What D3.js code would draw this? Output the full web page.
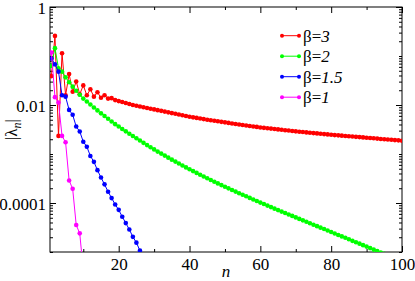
<!DOCTYPE html>
<html>
<head>
<meta charset="utf-8">
<script src="https://cdn.jsdelivr.net/npm/d3@7"></script>
<style>
  body { margin: 0; background: #fff; }
  #chart text, #chart tspan { font-family: "Liberation Serif", "Times New Roman", Times, "DejaVu Serif", "Noto Serif", serif !important; }
</style>
</head>
<body>
<svg id="chart" width="415" height="281"></svg>
<script>
// |lambda_n| for each beta, n = 1, 2, 3, ...
let beta3 = [0.0389,0.257,0.00234,0.1135,0.0158,0.0427,0.0186,0.0302,0.0166,0.0251,
  0.0158,0.0209,0.0148,0.0182,0.0141,0.0158,0.0135,0.0138,0.0126,0.0120,
  0.0115,0.0110,0.0105,0.0100,0.00966,0.00933,0.00902,0.00871,0.00841,0.00813,
  0.00785,0.00759,0.00733,0.00708,0.00684,0.00661,0.00638,0.00617,0.00596,0.00575,
  0.00560,0.00545,0.00530,0.00515,0.00501,0.00489,0.00476,0.00465,0.00453,0.00442,
  0.00431,0.00420,0.00409,0.00400,0.00391,0.00382,0.00373,0.00365,0.00357,0.00348,
  0.00342,0.00336,0.00330,0.00324,0.00318,0.00312,0.00306,0.00301,0.00295,0.00290,
  0.00285,0.00281,0.00276,0.00272,0.00267,0.00263,0.00259,0.00255,0.00251,0.00247,
  0.00243,0.00240,0.00237,0.00233,0.00230,0.00227,0.00224,0.00221,0.00218,0.00215,
  0.00212,0.00209,0.00206,0.00203,0.00200,0.00198,0.00195,0.00192,0.00190,0.00187];
let beta2 = [0.0631,0.1445,0.0562,0.0479,0.0367,0.0292,0.0237,0.0195,0.0162,0.0135,
  0.01175,0.01023,0.00891,0.00776,0.00676,0.00596,0.00525,0.00462,0.00407,0.00363,
  0.00324,0.00290,0.00259,0.00233,0.00209,0.00188,0.00169,0.00152,0.00137,0.00124,
  0.00112,0.00102,9.27e-4,8.43e-4,7.67e-4,7.00e-4,6.38e-4,5.83e-4,5.33e-4,4.88e-4,
  4.48e-4,4.11e-4,3.78e-4,3.48e-4,3.20e-4,2.95e-4,2.72e-4,2.51e-4,2.32e-4,2.15e-4,
  1.99e-4,1.84e-4,1.71e-4,1.58e-4,1.47e-4,1.37e-4,1.27e-4,1.18e-4,1.10e-4,1.02e-4,
  9.51e-5,8.85e-5,8.24e-5,7.67e-5,7.16e-5,6.68e-5,6.24e-5,5.82e-5,5.45e-5,5.08e-5,
  4.74e-5,4.43e-5,4.13e-5,3.86e-5,3.61e-5,3.37e-5,3.14e-5,2.94e-5,2.74e-5,2.56e-5,
  2.39e-5,2.23e-5,2.08e-5,1.95e-5,1.82e-5,1.69e-5,1.58e-5,1.48e-5,1.38e-5,1.29e-5,
  1.20e-5,1.12e-5,1.05e-5,9.80e-6,9.16e-6];
let beta15 = [0.0891,0.0676,0.0479,0.0158,0.0148,0.00794,0.00631,0.00363,0.00288,0.00178,
  0.00141,9.12e-4,6.92e-4,4.68e-4,3.31e-4,2.40e-4,1.70e-4,1.26e-4,9.33e-5,7.24e-5,
  5.25e-5,3.89e-5,2.88e-5,2.04e-5,1.55e-5,1.07e-5,7.8e-6];
let beta1 = [0.1175,0.01445,0.01122,0.00234,0.00174,2.88e-4,1.95e-4,3.55e-5,2.40e-5,4.17e-6];

let seriesNames = ['3', '2', '1.5', '1'];
let seriesColors = ['#ff0000', '#00ff00', '#0000ff', '#ff00ff'];
let seriesValues = [beta3, beta2, beta15, beta1];

let xMajor = [20, 40, 60, 80, 100];
let xMinor = [10, 30, 50, 70, 90];
let yLabelled = [1, 0.01, 0.0001];

let margin = { top: 7, right: 13, bottom: 29, left: 50 };
let width = 415 - margin.left - margin.right;
let height = 281 - margin.top - margin.bottom;

let x = d3.scaleLinear().domain([0.6, 100]).range([0, width]);
let y = d3.scaleLog().domain([1e-5, 1]).range([height, 0]);

// log minor ticks: 2..9 in every decade, plus the unlabelled decades
let yMinor = [];
for (let e = -5; e <= 0; e++) {
  for (let k = 1; k <= 9; k++) {
    let v = k * Math.pow(10, e);
    if (v > 1) continue;
    if (k === 1 && Math.abs(e % 2) === 0) continue;
    yMinor.push(v);
  }
}

let svg = d3.select('#chart');
let g = svg.append('g').attr('transform', `translate(${margin.left},${margin.top})`);

g.append('clipPath').attr('id', 'plotclip')
  .append('rect').attr('width', width).attr('height', height);

let fixAxis = function(sel) {
  sel.attr('font-family', null);
  sel.select('.domain').remove();
  sel.selectAll('.tick line').attr('stroke', '#000');
  sel.selectAll('.tick text').attr('fill', '#000').attr('font-size', 17);
};

// bottom / top
g.append('g').attr('transform', `translate(0,${height})`)
  .call(d3.axisBottom(x).tickValues(xMajor).tickSizeInner(-6).tickSizeOuter(0).tickPadding(6).tickFormat(d3.format('d')))
  .call(fixAxis);
g.append('g').attr('transform', `translate(0,${height})`)
  .call(d3.axisBottom(x).tickValues(xMinor).tickSizeInner(-3).tickSizeOuter(0).tickFormat(''))
  .call(fixAxis);
g.append('g')
  .call(d3.axisTop(x).tickValues(xMajor).tickSizeInner(-6).tickSizeOuter(0).tickFormat(''))
  .call(fixAxis);
g.append('g')
  .call(d3.axisTop(x).tickValues(xMinor).tickSizeInner(-3).tickSizeOuter(0).tickFormat(''))
  .call(fixAxis);

// left / right
let yAxisL = g.append('g')
  .call(d3.axisLeft(y).tickValues(yLabelled).tickSizeInner(-6).tickSizeOuter(0).tickPadding(4).tickFormat(d => String(d)))
  .call(fixAxis);
yAxisL.selectAll('.tick text').attr('dy', '0.36em');
g.append('g')
  .call(d3.axisLeft(y).tickValues(yMinor).tickSizeInner(-3).tickSizeOuter(0).tickFormat(''))
  .call(fixAxis);
g.append('g').attr('transform', `translate(${width},0)`)
  .call(d3.axisRight(y).tickValues(yLabelled).tickSizeInner(-6).tickSizeOuter(0).tickFormat(''))
  .call(fixAxis);
g.append('g').attr('transform', `translate(${width},0)`)
  .call(d3.axisRight(y).tickValues(yMinor).tickSizeInner(-3).tickSizeOuter(0).tickFormat(''))
  .call(fixAxis);

// frame
g.append('rect').attr('width', width).attr('height', height)
  .attr('fill', 'none').attr('stroke', '#000').attr('stroke-width', 1);

// series
let line = d3.line().x(d => x(d.n)).y(d => y(d.v));
let plot = g.append('g').attr('clip-path', 'url(#plotclip)');
seriesValues.forEach(function(vals, s) {
  let pts = vals.map((v, i) => ({ n: i + 1, v: v }));
  plot.append('path').datum(pts)
    .attr('d', line).attr('fill', 'none')
    .attr('stroke', seriesColors[s]).attr('stroke-width', 1);
  plot.selectAll('.pt' + s).data(pts).enter().append('circle')
    .attr('class', 'pt' + s)
    .attr('cx', d => x(d.n)).attr('cy', d => y(d.v))
    .attr('r', 2.3).attr('fill', seriesColors[s]);
});

// legend
let legend = svg.selectAll('.legend').data(seriesNames).enter().append('g')
  .attr('class', 'legend')
  .attr('transform', (d, i) => `translate(282,${35.7 + i * 20.5})`);
legend.append('line').attr('x1', 0).attr('x2', 17)
  .attr('stroke', (d, i) => seriesColors[i]).attr('stroke-width', 1);
legend.append('circle').attr('cx', 0).attr('r', 2).attr('fill', (d, i) => seriesColors[i]);
legend.append('circle').attr('cx', 17).attr('r', 2).attr('fill', (d, i) => seriesColors[i]);
let lt = legend.append('text').attr('x', 21).attr('y', 6).attr('font-size', 17);
lt.append('tspan').text('β=');
lt.append('tspan').attr('font-style', 'italic').text(d => d);

// axis titles
svg.append('text')
  .attr('x', margin.left + width / 2).attr('y', 277)
  .attr('text-anchor', 'middle').attr('font-size', 17).attr('font-style', 'italic')
  .text('n');
let yt = svg.append('text')
  .attr('transform', `translate(17,${margin.top + height / 2}) rotate(-90)`)
  .attr('text-anchor', 'middle').attr('font-size', 17);
yt.append('tspan').text('|λ');
yt.append('tspan').attr('font-size', 12).attr('font-style', 'italic').attr('dy', 4).text('n');
yt.append('tspan').attr('dy', -4).text('|');
</script>
</body>
</html>
